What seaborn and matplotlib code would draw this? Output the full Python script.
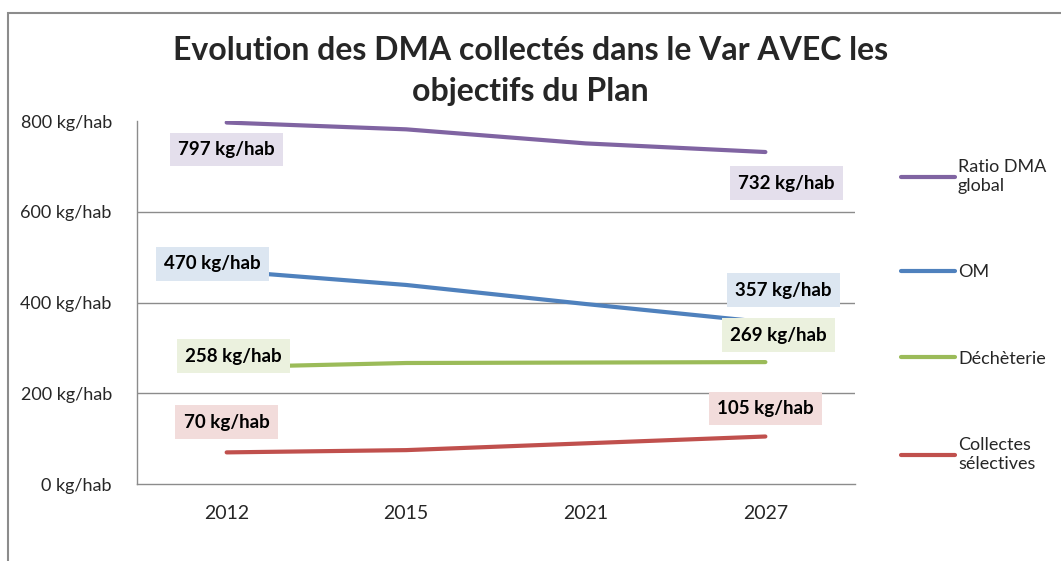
import pandas as pd
import seaborn as sns
import matplotlib.pyplot as plt
from matplotlib.patches import Rectangle

# Données
annees = ["2012", "2015", "2021", "2027"]
ratio_dma = [797, 782, 751, 732]
om = [470, 439, 397, 357]
decheterie = [258, 267, 268, 269]
collectes = [70, 75, 90, 105]

series = ["Ratio DMA global", "OM", "Déchèterie", "Collectes sélectives"]
legendes = ["Ratio DMA\nglobal", "OM", "Déchèterie", "Collectes\nsélectives"]
couleurs = ["#8064A2", "#4F81BD", "#9BBB59", "#C0504D"]
fonds = ["#E4DFEC", "#DCE6F1", "#EBF1DE", "#F2DCDB"]

# décalages des étiquettes (pixels) : début, fin
decalages = [((0, -27), (21, -31)),
             ((-14, 7), (18, 32)),
             ((7, 11), (13, 27)),
             ((0, 30), (0, 28))]

if __name__ == "__main__":
    valeurs = [ratio_dma, om, decheterie, collectes]
    df = pd.DataFrame({
        "annee": annees * 4,
        "x": list(range(4)) * 4,
        "valeur": [v for s in valeurs for v in s],
        "serie": [s for s in series for _ in annees],
    })

    sns.set_theme(style="white")
    plt.rcParams["font.family"] = ["Lato", "DejaVu Sans"]

    fig = plt.figure(figsize=(10.61, 5.61), dpi=100)
    ax = fig.add_axes([0.129, 0.137, 0.677, 0.647])

    sns.lineplot(data=df, x="x", y="valeur", hue="serie", hue_order=series,
                 palette=couleurs, linewidth=3, ax=ax, legend=False)

    ax.set_xlim(-0.5, 3.5)
    ax.set_ylim(0, 800)
    ax.set_xticks(range(4))
    ax.set_xticklabels(annees, fontsize=14)
    ax.set_yticks([0, 200, 400, 600, 800])
    ax.set_yticklabels([f"{v} kg/hab" for v in [0, 200, 400, 600, 800]], fontsize=13)
    ax.tick_params(axis="x", length=0, pad=15)
    ax.tick_params(axis="y", length=0, pad=18)
    ax.set_xlabel("")
    ax.set_ylabel("")
    for y in [200, 400, 600]:
        ax.axhline(y, color="#8c8c8c", linewidth=1, zorder=0)
    for s in ["top", "right"]:
        ax.spines[s].set_visible(False)
    for s in ["left", "bottom"]:
        ax.spines[s].set_color("#8c8c8c")
        ax.spines[s].set_linewidth(1)

    # étiquettes de valeur
    for vals, fond, (d0, d1) in zip(valeurs, fonds, decalages):
        for i, d in [(0, d0), (3, d1)]:
            ax.annotate(f"{vals[i]} kg/hab", (i, vals[i]), xytext=d,
                        textcoords="offset pixels", ha="center", va="center",
                        fontsize=13.5, fontweight="bold", color="black",
                        bbox=dict(boxstyle="square,pad=0.45", fc=fond, ec="none"),
                        zorder=5)

    # légende
    handles = [plt.Line2D([], [], color=c, linewidth=3) for c in couleurs]
    leg = fig.legend(handles, legendes, loc="upper left",
                     bbox_to_anchor=(0.834, 0.745), frameon=False,
                     fontsize=13, handlelength=3.0, handletextpad=0.15,
                     labelspacing=3.9)

    fig.suptitle("Evolution des DMA collectés dans le Var AVEC les\nobjectifs du Plan",
                 fontsize=23, fontweight="bold", y=0.935, linespacing=1.5)

    # cadre du graphique
    fig.patches.append(Rectangle((0.008, -0.05), 1.2, 1.027, transform=fig.transFigure,
                                 fill=False, ec="#8c8c8c", lw=1.5))

    fig.savefig("out.png", dpi=100)
